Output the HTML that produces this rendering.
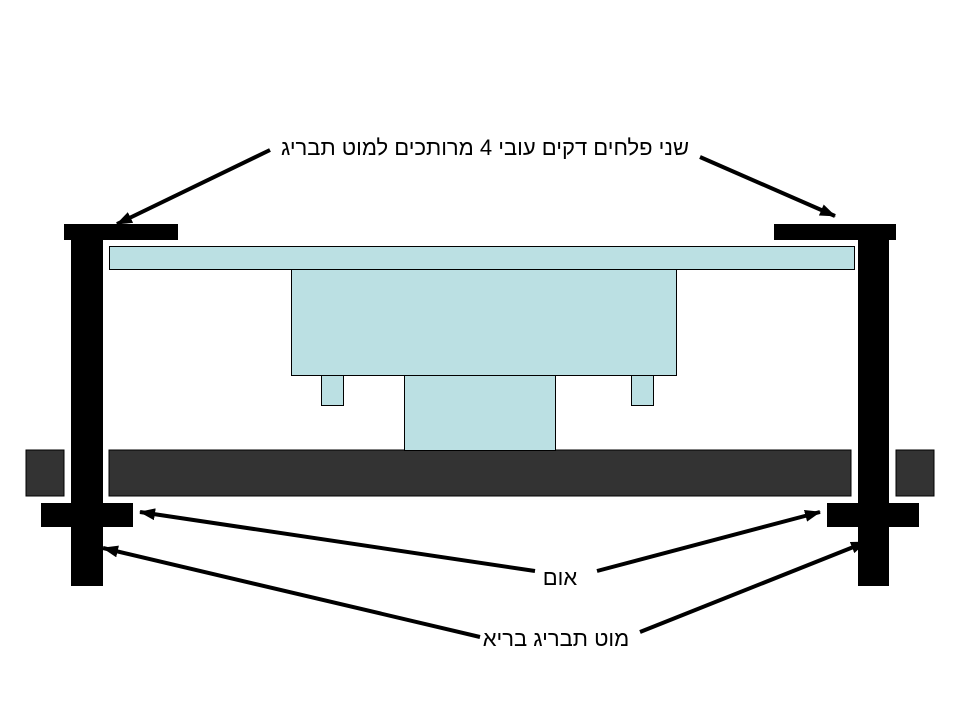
<!DOCTYPE html>
<html><head><meta charset="utf-8"><style>
body{margin:0;width:960px;height:720px;background:#fff;overflow:hidden}
</style></head><body>
<svg width="960" height="720" xmlns="http://www.w3.org/2000/svg" font-family="Liberation Sans, DejaVu Sans, sans-serif">
<defs>
<marker id="b" markerWidth="16" markerHeight="12" refX="15" refY="6" orient="auto" markerUnits="userSpaceOnUse"><path d="M0,0 L16,6 L0,12 z" fill="#000"/></marker></defs>
<rect x="26" y="450" width="38" height="46" fill="#333" stroke="#000" stroke-width="1"/>
<rect x="109" y="450" width="742" height="46" fill="#333" stroke="#000" stroke-width="1"/>
<rect x="896" y="450" width="38" height="46" fill="#333" stroke="#000" stroke-width="1"/>
<rect x="109.5" y="246.5" width="745" height="23" fill="#bbe0e3" stroke="#000"/>
<rect x="291.5" y="269.5" width="385" height="106" fill="#bbe0e3" stroke="#000"/>
<rect x="321.5" y="375.5" width="22" height="30" fill="#bbe0e3" stroke="#000"/>
<rect x="631.5" y="375.5" width="22" height="30" fill="#bbe0e3" stroke="#000"/>
<rect x="404.5" y="375.5" width="151" height="75" fill="#bbe0e3" stroke="#000"/>
<rect x="64" y="224" width="114" height="16" fill="#000"/>
<rect x="71" y="240" width="32" height="346" fill="#000"/>
<rect x="41" y="503" width="92" height="24" fill="#000"/>
<rect x="774" y="224" width="122" height="16" fill="#000"/>
<rect x="858" y="240" width="31" height="346" fill="#000"/>
<rect x="827" y="503" width="92" height="24" fill="#000"/>
<g stroke="#000" stroke-width="4" fill="none">
<line x1="270" y1="150" x2="117" y2="224" marker-end="url(#b)"/>
<line x1="700" y1="157" x2="835" y2="216" marker-end="url(#b)"/>
<line x1="535" y1="571" x2="140" y2="512" marker-end="url(#b)"/>
<line x1="597" y1="571" x2="820" y2="512" marker-end="url(#b)"/>
<line x1="480" y1="637" x2="103" y2="548" marker-end="url(#b)"/>
<line x1="640" y1="632" x2="866" y2="542" marker-end="url(#b)"/>
</g>
<g font-size="22" fill="#000" text-anchor="middle">
<text x="485" y="155" direction="rtl" unicode-bidi="plaintext">שני פלחים דקים עובי 4 מרותכים למוט תבריג</text>
<text x="560" y="585">אום</text>
<text x="556" y="646">מוט תבריג בריא</text>
</g>
</svg>
</body></html>
